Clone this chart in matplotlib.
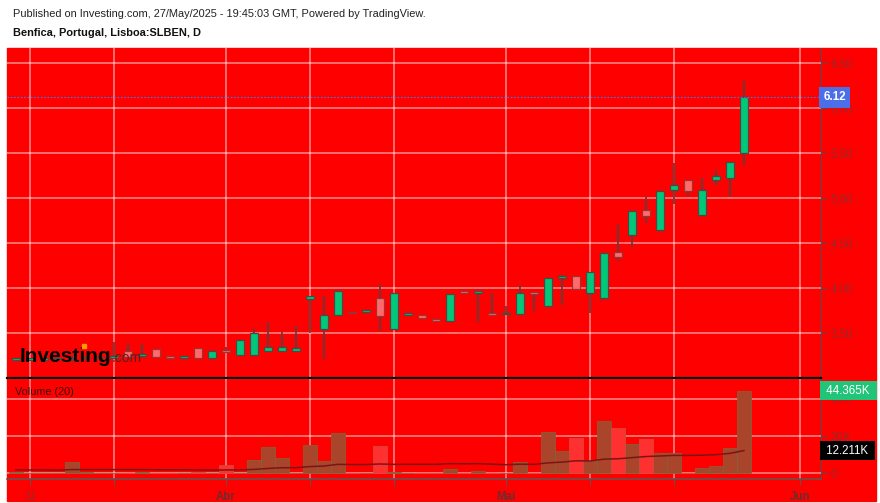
import numpy as np
import matplotlib.pyplot as plt
from matplotlib.patches import Rectangle
from matplotlib.transforms import blended_transform_factory

plt.rcParams['font.family'] = ['Liberation Sans', 'DejaVu Sans']

# daily candles, one per trading day (index 0 = first bar shown)
opens = [3.20, 3.20, 3.20, 3.21, 3.21, 3.22, 3.22, 3.23, 3.30, 3.25,
         3.33, 3.23, 3.23, 3.34, 3.22, 3.29, 3.26, 3.26, 3.30, 3.30,
         3.30, 3.88, 3.545, 3.70, 3.72, 3.74, 3.89, 3.55, 3.70, 3.70,
         3.66, 3.64, 3.95, 3.95, 3.70, 3.71, 3.71, 3.95, 3.80, 4.11,
         4.14, 3.95, 3.89, 4.40, 4.59, 4.87, 4.65, 5.09, 5.20, 4.81,
         5.20, 5.22, 5.50]
highs = [3.20, 3.21, 3.22, 3.22, 3.26, 3.24, 3.25, 3.40, 3.39, 3.38,
         3.33, 3.23, 3.23, 3.34, 3.30, 3.35, 3.42, 3.545, 3.62, 3.51,
         3.58, 3.91, 3.91, 3.97, 3.72, 3.74, 4.05, 3.95, 3.715, 3.70,
         3.66, 3.94, 3.95, 3.95, 3.95, 3.80, 4.04, 3.95, 4.11, 4.15,
         4.14, 4.18, 4.39, 4.70, 4.86, 5.01, 5.08, 5.39, 5.20, 5.23,
         5.31, 5.40, 6.30]
lows = [3.20, 3.19, 3.20, 3.20, 3.18, 3.21, 3.21, 3.22, 3.22, 3.23,
        3.24, 3.23, 3.23, 3.23, 3.22, 3.29, 3.26, 3.26, 3.30, 3.30,
        3.30, 3.50, 3.21, 3.70, 3.72, 3.72, 3.52, 3.55, 3.70, 3.67,
        3.635, 3.64, 3.945, 3.62, 3.70, 3.71, 3.71, 3.75, 3.80, 3.81,
        3.99, 3.72, 3.89, 4.30, 4.46, 4.72, 4.65, 4.94, 5.03, 4.81,
        5.15, 5.01, 5.37]
closes = [3.20, 3.20, 3.21, 3.21, 3.22, 3.22, 3.23, 3.24, 3.24, 3.25,
          3.24, 3.23, 3.23, 3.23, 3.30, 3.29, 3.42, 3.50, 3.345, 3.345,
          3.34, 3.915, 3.70, 3.97, 3.72, 3.74, 3.69, 3.95, 3.715, 3.67,
          3.635, 3.94, 3.945, 3.95, 3.70, 3.73, 3.95, 3.94, 4.11, 4.14,
          3.99, 4.18, 4.39, 4.35, 4.86, 4.80, 5.08, 5.15, 5.085, 5.09,
          5.25, 5.40, 6.12]

# volume in thousands and its 20-day average
volume_k = [0.5, 0.3, 0.2, 0.3, 5.9, 0.5, 0.3, 0.3, 0.4, 0.9,
            0.3, 0.2, 0.2, 0.5, 0.3, 4.4, 0.3, 7.1, 13.9, 8.2,
            0.3, 15.0, 6.6, 21.6, 0.3, 0.3, 14.5, 0.6, 0.3, 0.2,
            0.3, 2.1, 0.3, 1.1, 0.3, 0.4, 6.1, 0.4, 22.1, 12.1,
            18.9, 6.6, 27.9, 24.5, 15.6, 18.4, 11.1, 11.1, 0.3, 2.7,
            3.9, 13.4, 44.365]
volume_ma_k = [1.8, 1.8, 1.8, 1.7, 2.0, 2.0, 2.0, 2.0, 2.0, 2.0,
               1.9, 1.9, 1.9, 1.8, 1.7, 1.8, 1.8, 2.1, 2.6, 3.0,
               3.0, 3.6, 3.9, 4.8, 4.7, 4.7, 5.0, 4.8, 4.8, 4.8,
               4.8, 5.2, 5.1, 5.2, 4.9, 4.6, 4.9, 4.8, 5.6, 6.0,
               6.7, 6.6, 7.6, 7.8, 8.4, 9.0, 9.3, 9.6, 9.6, 9.7,
               10.0, 10.7, 12.211]

date_ticks = [1, 7, 15, 21, 27, 35, 41, 47, 56]
date_labels = ['11', '', 'Abr', '', '', 'Mai', '', '', 'Jun']
price_ticks = [3.5, 4.0, 4.5, 5.0, 5.5, 6.0, 6.5]
vol_ticks = [0, 20, 40]
vol_labels = ['0', '20K', '40K']

RED = '#ff0000'
UP, UP_EDGE = '#00c77a', '#4a4a44'
DOWN, DOWN_EDGE = '#ff6b6b', '#9a3333'
VOL_UP, VOL_DOWN = '#a8452b', '#ff3030'
LABEL = '#952a2a'

o, h, l, c = map(np.array, (opens, highs, lows, closes))
x = np.arange(len(c))
prev = np.concatenate([[c[0]], c[:-1]])
up = (c > o) | ((c == o) & (c >= prev))

W, H = 880, 503
fig = plt.figure(figsize=(W / 100, H / 100), dpi=100)
fig.patches.append(Rectangle((7 / W, 1 - 501 / H), 869 / W, 453 / H,
                             transform=fig.transFigure, color=RED, zorder=-10))

ax_p = fig.add_axes([7 / W, 1 - 378 / H, 814 / W, 330 / H])
ax_v = fig.add_axes([7 / W, 1 - 479 / H, 814 / W, 100 / H], sharex=ax_p)

for ax in (ax_p, ax_v):
    ax.set_facecolor(RED)
    ax.spines['top'].set_visible(False)
    ax.spines['left'].set_visible(False)
    ax.spines['right'].set_color('#5a4a4a')
    ax.yaxis.tick_right()
    ax.grid(color='white', alpha=0.55, lw=1.1)
    ax.set_axisbelow(True)
    ax.tick_params(axis='y', colors='#5a4a4a', labelcolor=LABEL, labelsize=8.3,
                   length=4, width=0.8, pad=3)

ax_p.spines['bottom'].set_color('black')
ax_p.spines['bottom'].set_linewidth(1.6)
ax_v.spines['bottom'].set_color('#6a5050')
ax_v.spines['bottom'].set_linewidth(1.2)

# candles
body_w = 0.62
ax_p.vlines(x, l, h, color='#5a4040', lw=1.3, zorder=2)
bottoms = np.minimum(o, c)
heights = np.maximum(np.abs(c - o), 0.02)
ax_p.bar(x[up], heights[up], body_w, bottoms[up], color=UP,
         edgecolor=UP_EDGE, lw=0.9, zorder=3)
ax_p.bar(x[~up], heights[~up], body_w, bottoms[~up], color=DOWN,
         edgecolor=DOWN_EDGE, lw=0.9, zorder=3)

ax_p.set_xlim(-0.64, 57.5)
ax_p.set_ylim(3.003, 6.67)
ax_p.set_yticks(price_ticks)
ax_p.set_yticklabels(['%.2f' % t for t in price_ticks])
ax_p.tick_params(axis='x', labelbottom=False, length=0)

# last price line and tag
ax_p.axhline(c[-1], color='#4b6fe8', lw=0.8, ls=(0, (1.5, 1.5)), zorder=4)
tr_p = blended_transform_factory(ax_p.transAxes, ax_p.transData)
ax_p.text(1.003, c[-1], '%.2f' % c[-1], transform=tr_p, ha='left', va='center',
          color='white', fontsize=8.3, fontweight='bold', zorder=10, clip_on=False,
          bbox=dict(boxstyle='square,pad=0.35', fc='#4b6fe8', ec='none'))

# volume
vol = np.array(volume_k)
ax_v.bar(x[up], vol[up], 1.0, color=VOL_UP, edgecolor='#86603a', lw=0.6, zorder=2)
ax_v.bar(x[~up], vol[~up], 1.0, color=VOL_DOWN, edgecolor='#d04a3a', lw=0.6, zorder=2)
ax_v.plot(x, volume_ma_k, color='#7a1515', lw=1.1, zorder=3)
ax_v.set_ylim(-3.06, 50.6)
ax_v.set_yticks(vol_ticks)
ax_v.set_yticklabels(vol_labels)
ax_v.set_xticks(date_ticks)
ax_v.set_xticklabels(date_labels)
ax_v.tick_params(axis='x', colors='#6a5050', labelcolor=LABEL, labelsize=8.3,
                 length=4, width=0.8, pad=5)
for t in ax_v.get_xticklabels():
    if t.get_text() != '11':
        t.set_fontweight('bold')
        t.set_color('#6e2c2c')

tr_v = blended_transform_factory(ax_v.transAxes, ax_v.transData)
ax_v.text(1.003, vol[-1], ' %.3fK ' % vol[-1], transform=tr_v, ha='left', va='center',
          color='white', fontsize=8.3, zorder=10, clip_on=False,
          bbox=dict(boxstyle='square,pad=0.3', fc='#22c47a', ec='none'))
ax_v.text(1.003, volume_ma_k[-1], ' %.3fK ' % volume_ma_k[-1], transform=tr_v,
          ha='left', va='center', color='white', fontsize=8.3, zorder=10, clip_on=False,
          bbox=dict(boxstyle='square,pad=0.3', fc='black', ec='none'))
ax_v.text(8 / 814, 1 - 13 / 100, 'Volume (20)', transform=ax_v.transAxes,
          fontsize=7.8, color='#3a0c0c', va='center', ha='left')

# watermark
fig.text(20 / W, 1 - 362 / H, 'Investing', fontsize=15, fontweight='bold',
         color='black', va='baseline', ha='left', zorder=20)
fig.text(112 / W, 1 - 362 / H, '.com', fontsize=10, color='#5a2020',
         va='baseline', ha='left', zorder=20)
fig.lines.append(plt.Line2D([83.5 / W], [1 - 346 / H], marker='s', ms=3.4,
                            color='#ff9900', transform=fig.transFigure, zorder=21))

# header
fig.text(13 / W, 1 - 14 / H, 'Published on Investing.com, 27/May/2025 - 19:45:03 GMT, '
         'Powered by TradingView.', fontsize=7.9, color='#222222', va='center')
fig.text(13 / W, 1 - 33 / H, 'Benfica, Portugal, Lisboa:SLBEN, D', fontsize=7.9,
         fontweight='bold', color='#111111', va='center')

fig.savefig('out.png', dpi=100, facecolor='white')
